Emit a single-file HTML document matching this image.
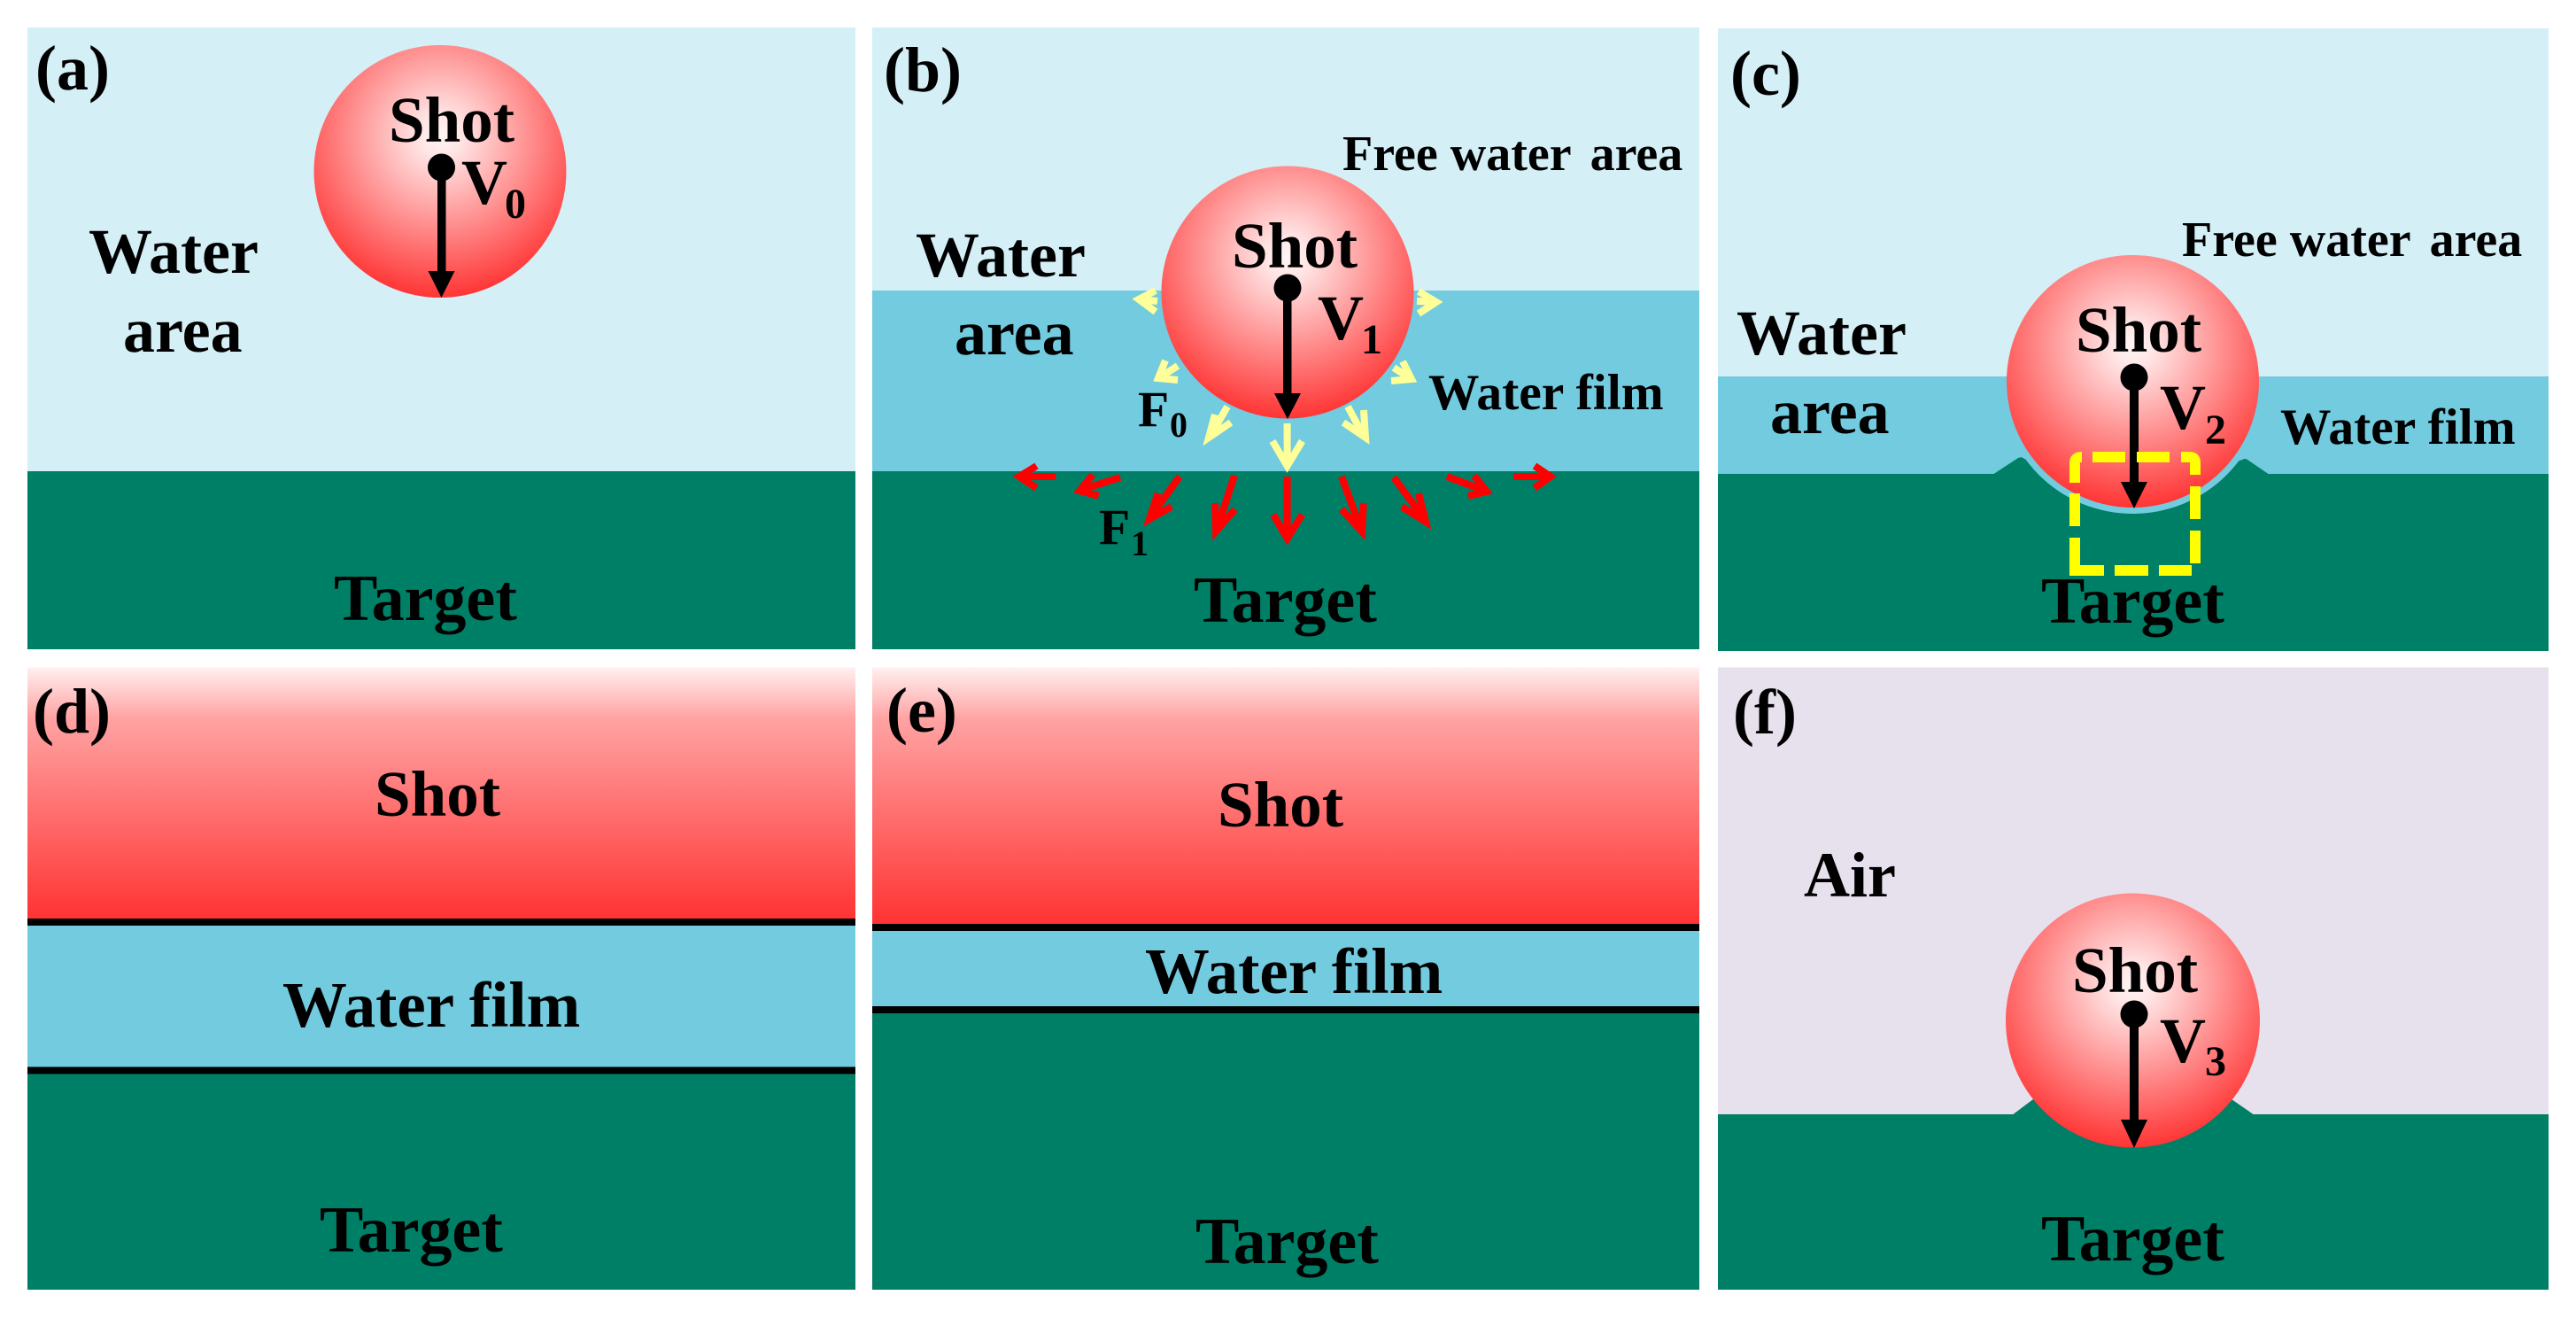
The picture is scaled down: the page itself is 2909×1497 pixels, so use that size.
<!DOCTYPE html>
<html><head><meta charset="utf-8"><style>
html,body{margin:0;padding:0;background:#fff;width:2909px;height:1497px;overflow:hidden}
svg{display:block}
text{font-family:"Liberation Serif",serif;font-weight:bold;fill:#000;font-size:72px}
.s{font-size:48px}.m{font-size:56px}.f{font-size:57.5px}.ss{font-size:40px}.t{font-size:74px}.h{font-size:73px}.w{font-size:72.8px}
.y{fill:none;stroke:#ffff99;stroke-width:8;stroke-linejoin:miter;stroke-miterlimit:6}
.r{fill:none;stroke:#ff0000;stroke-width:8;stroke-linejoin:miter;stroke-miterlimit:6}
.d{fill:none;stroke:#ffff00;stroke-width:12}
</style></head><body>
<svg width="2909" height="1497" viewBox="0 0 2909 1497" xmlns="http://www.w3.org/2000/svg">
<defs>
<radialGradient id="ball" cx=".5" cy=".36" r=".66"><stop offset="0" stop-color="#fff4f4"/><stop offset=".12" stop-color="#ffe6e6"/><stop offset="1" stop-color="#ff2e2e"/></radialGradient>
<linearGradient id="band" x1="0" y1="0" x2="0" y2="1"><stop offset="0" stop-color="#fff0f0"/><stop offset=".2" stop-color="#ffa3a3"/><stop offset="1" stop-color="#ff3333"/></linearGradient>
<clipPath id="cc"><rect x="2200" y="425" width="420" height="170"/></clipPath>
</defs>
<rect width="2909" height="1497" fill="#fff"/>

<!-- a -->
<rect x="31" y="31" width="935" height="501" fill="#d5eff6"/>
<rect x="31" y="532" width="935" height="201" fill="#007f67"/>
<circle cx="497" cy="193.5" r="142.5" fill="url(#ball)"/>
<circle cx="498.5" cy="189" r="15.5"/><rect x="494" y="189" width="9.5" height="120"/><path d="M483.5 306H513.5L498.5 336Z"/>
<text x="40" y="101">(a)</text>
<text class="h" x="439" y="160">Shot</text>
<text x="521" y="230">V</text><text class="s" x="570" y="246">0</text>
<text x="100" y="308">Water</text>
<text x="139" y="397">area</text>
<text class="t" x="377" y="700">Target</text>

<!-- b -->
<rect x="985" y="31" width="934" height="297" fill="#d5eff6"/>
<rect x="985" y="328" width="934" height="204" fill="#72cbdf"/>
<rect x="985" y="532" width="934" height="201" fill="#007f67"/>
<circle cx="1454" cy="330" r="142.5" fill="url(#ball)"/>
<circle cx="1454" cy="325" r="15.5"/><rect x="1449" y="325" width="9.5" height="122"/><path d="M1439 444H1469L1454 473Z"/>
<text x="998" y="103">(b)</text>
<text class="m" x="1516" y="192">Free water <tspan dx="8">area</tspan></text>
<text class="h" x="1391" y="302">Shot</text>
<text x="1034" y="312">Water</text>
<text x="1078" y="400">area</text>
<text x="1488" y="383">V</text><text class="s" x="1537" y="399">1</text>
<text class="f" x="1613" y="462">Water film</text>
<text class="f" x="1285" y="481">F</text><text class="ss" x="1321" y="493">0</text>
<text class="f" x="1241" y="614">F</text><text class="ss" x="1277" y="627">1</text>
<text class="t" x="1348" y="702">Target</text>
<!-- yellow arrows -->
<path class="y" d="M1307 340L1286 338M1305 328L1286 338L1305 352"/>
<path class="y" d="M1600 340L1622 341M1602 329L1622 341L1602 354"/>
<path class="y" d="M1330 413L1310 426M1316 407L1308 427L1330 429"/>
<path class="y" d="M1574 415L1592 427M1584 408L1594 428L1571 430"/>
<path class="y" d="M1386 459L1366 494M1372 468L1365 494L1390 477"/>
<path class="y" d="M1522 459L1541 494M1540 463L1542 494L1517 477"/>
<path class="y" d="M1453.6 478V524M1437 498L1453.6 526L1470.5 498"/>
<!-- red arrows -->
<path class="r" d="M1453.6 538V606M1438 581L1453.6 608L1470.5 581"/>
<path class="r" d="M1394 537L1374 598M1372 568L1373 600L1394.6 575"/>
<path class="r" d="M1332 538L1299 584M1307.6 557L1298 586L1323 572"/>
<path class="r" d="M1265 539L1221 553M1234 536L1219 554L1240.6 560"/>
<path class="r" d="M1192.4 538H1152M1170.5 526L1151 538L1170.5 551"/>
<path class="r" d="M1515 538L1537 598M1539.7 568L1538 600L1515 575"/>
<path class="r" d="M1574 539L1609 587M1602 557L1610 589L1583 572"/>
<path class="r" d="M1634 538L1677 554M1664.7 537L1679 555L1658 560"/>
<path class="r" d="M1709 538H1750M1733 526L1751 538L1733 551"/>

<!-- c -->
<rect x="1940" y="32" width="938" height="393" fill="#d5eff6"/>
<rect x="1940" y="425" width="938" height="110" fill="#72cbdf"/>
<rect x="1940" y="535" width="938" height="200" fill="#007f67"/>
<path d="M2250 536L2279 517Q2283 515 2286 518L2340 536ZM2480 536L2532 519Q2535 517 2538 519L2563 536Z" fill="#007f67"/>
<circle cx="2408.5" cy="430" r="150" fill="#72cbdf" clip-path="url(#cc)"/>
<circle cx="2408.5" cy="430.5" r="142.5" fill="url(#ball)"/>
<circle cx="2410" cy="426" r="15.5"/><rect x="2405" y="426" width="10" height="122"/><path d="M2395 544H2425L2410 574Z"/>
<text x="1954" y="107">(c)</text>
<text class="m" x="2464" y="289">Free water <tspan dx="8">area</tspan></text>
<text class="h" x="2344" y="397">Shot</text>
<text x="1961" y="400">Water</text>
<text x="1999" y="489">area</text>
<text x="2439" y="484">V</text><text class="s" x="2490" y="501">2</text>
<text class="f" x="2575" y="501">Water film</text>
<text class="t" x="2305" y="703">Target</text>
<path class="d" d="M2343 545V522Q2343 516 2351 516"/>
<path class="d" d="M2363 516H2400M2413 516H2450M2463 516H2473Q2479 516 2479 522V536M2479 549V586M2479 599V636"/>
<path class="d" d="M2475 644H2438M2426 644H2388M2376 644H2343V607M2343 594V557"/>

<!-- d -->
<rect x="31" y="753.5" width="935" height="284" fill="url(#band)"/>
<rect x="31" y="1045" width="935" height="160" fill="#72cbdf"/>
<rect x="31" y="1212" width="935" height="244" fill="#007f67"/>
<rect x="31" y="1037" width="935" height="8"/><rect x="31" y="1204.5" width="935" height="8"/>
<text x="37" y="827">(d)</text>
<text class="h" x="423" y="921">Shot</text>
<text class="w" x="319" y="1159">Water film</text>
<text class="t" x="361" y="1413">Target</text>

<!-- e -->
<rect x="985" y="753.5" width="934" height="290" fill="url(#band)"/>
<rect x="985" y="1051" width="934" height="86" fill="#72cbdf"/>
<rect x="985" y="1144" width="934" height="312" fill="#007f67"/>
<rect x="985" y="1043" width="934" height="8"/><rect x="985" y="1136" width="934" height="8"/>
<text x="1001" y="826">(e)</text>
<text class="h" x="1375" y="933">Shot</text>
<text class="w" x="1293" y="1121">Water film</text>
<text class="t" x="1350" y="1426">Target</text>

<!-- f -->
<rect x="1940" y="753.5" width="938" height="505" fill="#e7e1ee"/>
<rect x="1940" y="1258" width="938" height="198" fill="#007f67"/>
<path d="M2272 1259L2296 1241L2330 1259ZM2490 1259L2520 1241L2546 1259Z" fill="#007f67"/>
<circle cx="2408.5" cy="1152" r="143.5" fill="url(#ball)"/>
<circle cx="2410" cy="1145" r="15.5"/><rect x="2405" y="1145" width="10" height="122"/><path d="M2395 1264H2425L2410 1296Z"/>
<text x="1957" y="828">(f)</text>
<text x="2037" y="1012">Air</text>
<text class="h" x="2340" y="1120">Shot</text>
<text x="2439" y="1199">V</text><text class="s" x="2490" y="1214">3</text>
<text class="t" x="2305" y="1423">Target</text>
</svg>
</body></html>
